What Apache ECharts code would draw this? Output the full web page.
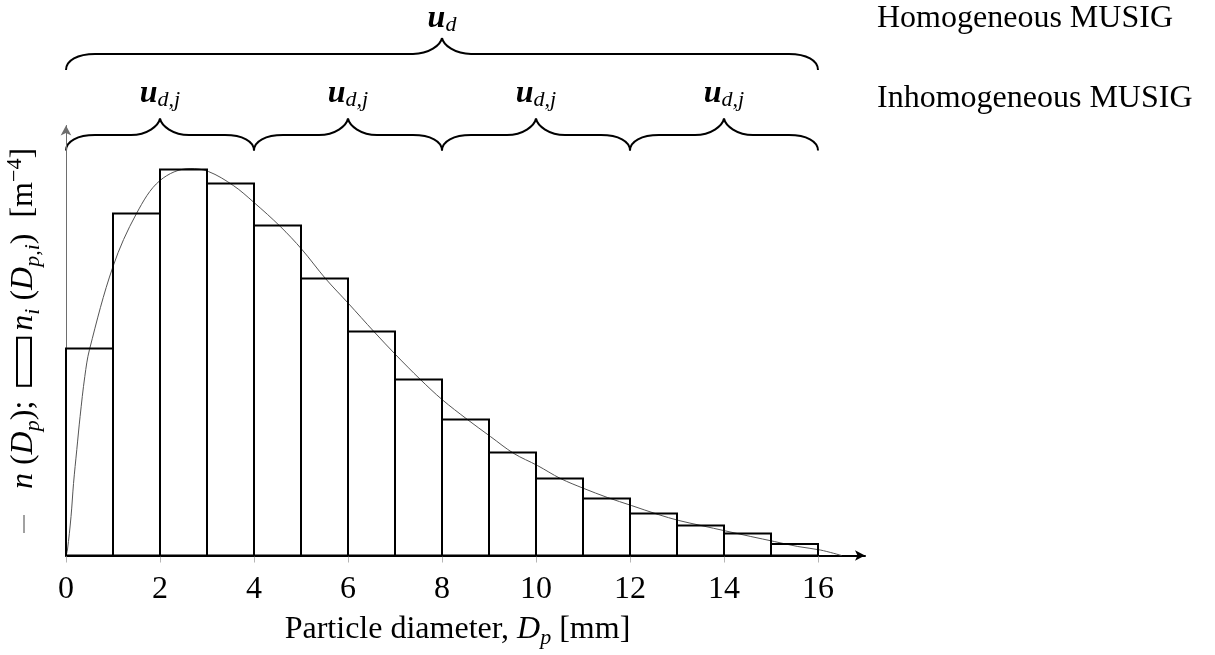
<!DOCTYPE html>
<html>
<head>
<meta charset="utf-8">
<script src="https://cdn.jsdelivr.net/npm/echarts@6/dist/echarts.min.js"></script>
<style>
  html, body { margin: 0; padding: 0; background: #fff; }
  #chart { width: 1215px; height: 655px; }
</style>
</head>
<body>
<div id="chart"></div>
<script>
// Particle size distribution: class-wise number densities (histogram) and the continuous density
const binEdges = [0, 1, 2, 3, 4, 5, 6, 7, 8, 9, 10, 11, 12, 13, 14, 15, 16];
const binValues = [2.07, 3.42, 3.86, 3.72, 3.30, 2.77, 2.24, 1.76, 1.36, 1.03, 0.77, 0.57, 0.42, 0.30, 0.22, 0.115];

// Continuous distribution n(D_p)
const curveD = [0, 0.03, 0.107, 0.16, 0.23, 0.3, 0.4, 0.5, 1.0, 1.5, 2.0, 2.64, 3.03, 3.56, 4.0, 4.56, 5.02, 5.52, 6.01, 6.55, 7.01, 7.54, 8.0, 8.54, 9.03, 9.53, 10.03, 10.52, 11.02, 11.52, 12.03, 12.6, 13.04, 13.51, 14.04, 14.57, 15.07, 15.57, 16.05, 16.5];
const curveN = [0, 0.055, 0.39, 0.72, 1.06, 1.39, 1.79, 2.06, 2.89, 3.42, 3.75, 3.87, 3.84, 3.70, 3.53, 3.29, 3.06, 2.77, 2.52, 2.24, 2.01, 1.76, 1.56, 1.36, 1.19, 1.02, 0.90, 0.77, 0.67, 0.58, 0.50, 0.41, 0.35, 0.30, 0.245, 0.19, 0.14, 0.09, 0.055, 0];

const xTicks = [0, 2, 4, 6, 8, 10, 12, 14, 16];

// Velocity groups: one for the homogeneous model, four for the inhomogeneous one
const homogeneousGroup = [0, 16];
const inhomogeneousGroups = [[0, 4], [4, 8], [8, 12], [12, 16]];
const homogeneousLabel = 'Homogeneous MUSIG';
const inhomogeneousLabel = 'Inhomogeneous MUSIG';

const FONT = '"Liberation Serif", "Times New Roman", serif';

const chart = echarts.init(document.getElementById('chart'), null, { renderer: 'canvas' });

const histData = binValues.map((v, i) => [binEdges[i], binEdges[i + 1], v]);
const curveData = curveD.map((d, i) => [d, curveN[i]]);

const mathRich = {
  r:   { fontFamily: FONT, fontSize: 32, color: '#000', lineHeight: 40 },
  it:  { fontFamily: FONT, fontSize: 32, fontStyle: 'italic', color: '#000', lineHeight: 40 },
  sub: { fontFamily: FONT, fontSize: 22, fontStyle: 'italic', color: '#000', lineHeight: 22, verticalAlign: 'bottom' },
  sup: { fontFamily: FONT, fontSize: 22, color: '#000', lineHeight: 22, verticalAlign: 'top' },
  ln:  { width: 18, height: 1, backgroundColor: '#444', verticalAlign: 'middle', padding: [0, 0, 0, 0] },
  box: { width: 46, height: 12, borderColor: '#000', borderWidth: 2, backgroundColor: '#fff', verticalAlign: 'middle' },
  s4:  { width: 4, lineHeight: 40 },
  s8:  { width: 8, lineHeight: 40 },
  s12: { width: 12, lineHeight: 40 },
  s16: { width: 16, lineHeight: 40 },
  s26: { width: 26, lineHeight: 40 }
};

const yName = '{ln| }{s26|}{it|n}{s8|}{r|(}{it|D}{sub|p}{r|);}{s16|}{box|}{s8|}{it|n}{sub|i}{s8|}{r|(}{it|D}{sub|p,i}{r|)}{s16|}{r|[m}{sup|−4}{r|]}';

chart.setOption({
  animation: false,
  backgroundColor: '#fff',
  grid: { left: 66, right: 350, top: 125.5, bottom: 99.5, containLabel: false, outerBoundsMode: 'none' },
  xAxis: {
    type: 'value',
    min: 0,
    max: 17,
    interval: 2,
    name: '{r|Particle diameter, }{it|D}{sub|p}{r| [mm]}',
    nameLocation: 'middle',
    nameGap: 54,
    nameTextStyle: { rich: mathRich, padding: [0, 16, 0, 0] },
    axisLine: {
      show: true,
      lineStyle: { color: '#000', width: 2 },
      symbol: ['none', 'arrow'],
      symbolSize: [8, 10]
    },
    axisTick: { show: true, inside: false, length: 7, lineStyle: { color: '#b5b5b5', width: 1 }, customValues: xTicks },
    axisLabel: { fontFamily: FONT, fontSize: 32, color: '#000', margin: 18, customValues: xTicks },
    splitLine: { show: false }
  },
  yAxis: {
    type: 'value',
    min: 0,
    max: 4.3,
    name: yName,
    nameLocation: 'middle',
    nameGap: 22,
    nameRotate: 90,
    nameTextStyle: { rich: mathRich },
    axisLine: {
      show: true,
      lineStyle: { color: '#6e6e6e', width: 1 },
      symbol: ['none', 'arrow'],
      symbolSize: [8, 10]
    },
    axisTick: { show: false },
    axisLabel: { show: false },
    splitLine: { show: false }
  },
  series: [
    {
      type: 'line',
      data: curveData,
      smooth: 0.35,
      showSymbol: false,
      z: 1,
      lineStyle: { color: '#555', width: 1 }
    },
    {
      type: 'custom',
      z: 3,
      data: histData,
      encode: { x: [0, 1], y: 2 },
      renderItem: function (params, api) {
        const p0 = api.coord([api.value(0), api.value(2)]);
        const p1 = api.coord([api.value(1), 0]);
        return {
          type: 'rect',
          shape: { x: p0[0], y: p0[1], width: p1[0] - p0[0], height: p1[1] - p0[1] },
          style: { fill: 'none', stroke: '#000', lineWidth: 2 }
        };
      }
    }
  ]
});

// Curly braces above the plot marking the velocity groups, built from cubic curves and lines
const braceStyle = { fill: 'none', stroke: '#000', lineWidth: 2 };
function cubic(x1, y1, c1x, c1y, c2x, c2y, x2, y2) {
  return {
    type: 'bezierCurve',
    shape: { x1: x1, y1: y1, cpx1: c1x, cpy1: c1y, cpx2: c2x, cpy2: c2y, x2: x2, y2: y2 },
    style: braceStyle
  };
}
function seg(x1, y1, x2, y2) {
  return { type: 'line', shape: { x1: x1, y1: y1, x2: x2, y2: y2 }, style: braceStyle };
}
function brace(xa, xb, yEnd, yH, yCusp, r) {
  const xm = (xa + xb) / 2;
  const h = yEnd - yH;
  const c = yH - yCusp;
  return [
    cubic(xa, yEnd, xa, yEnd - h * 0.6, xa + r * 0.4, yH, xa + r, yH),
    seg(xa + r, yH, xm - r, yH),
    cubic(xm - r, yH, xm - r * 0.45, yH, xm - r * 0.05, yCusp + c * 0.45, xm, yCusp),
    cubic(xm, yCusp, xm + r * 0.05, yCusp + c * 0.45, xm + r * 0.45, yH, xm + r, yH),
    seg(xm + r, yH, xb - r, yH),
    cubic(xb - r, yH, xb - r * 0.4, yH, xb, yEnd - h * 0.6, xb, yEnd)
  ];
}

const yTop = chart.convertToPixel({ gridIndex: 0 }, [0, 4.3])[1];
const px = function (v) { return chart.convertToPixel({ gridIndex: 0 }, [v, 0])[0]; };

const labelRich = {
  b: { fontFamily: FONT, fontSize: 32, fontWeight: 'bold', fontStyle: 'italic', color: '#000', lineHeight: 36 },
  s: { fontFamily: FONT, fontSize: 22, fontStyle: 'italic', color: '#000', lineHeight: 22, verticalAlign: 'bottom' }
};

let graphics = [];
graphics = graphics.concat(brace(px(homogeneousGroup[0]), px(homogeneousGroup[1]), yTop - 55.5, yTop - 71.5, yTop - 87.5, 29));
graphics.push({
  type: 'text',
  style: {
    text: '{b|u}{s|d}', rich: labelRich,
    x: px((homogeneousGroup[0] + homogeneousGroup[1]) / 2), y: yTop - 107,
    align: 'center', verticalAlign: 'middle'
  }
});
inhomogeneousGroups.forEach(function (g) {
  graphics = graphics.concat(brace(px(g[0]), px(g[1]), yTop + 25, yTop + 9.5, yTop - 7, 29));
  graphics.push({
    type: 'text',
    style: {
      text: '{b|u}{s|d,j}', rich: labelRich,
      x: px((g[0] + g[1]) / 2), y: yTop - 32,
      align: 'center', verticalAlign: 'middle'
    }
  });
});
graphics.push({
  type: 'text',
  style: { text: homogeneousLabel, x: 877, y: 19, fontFamily: FONT, fontSize: 32, fill: '#000', align: 'left', verticalAlign: 'middle' }
});
graphics.push({
  type: 'text',
  style: { text: inhomogeneousLabel, x: 877, y: 98.5, fontFamily: FONT, fontSize: 32, fill: '#000', align: 'left', verticalAlign: 'middle' }
});

chart.setOption({ graphic: graphics });
</script>
</body>
</html>
